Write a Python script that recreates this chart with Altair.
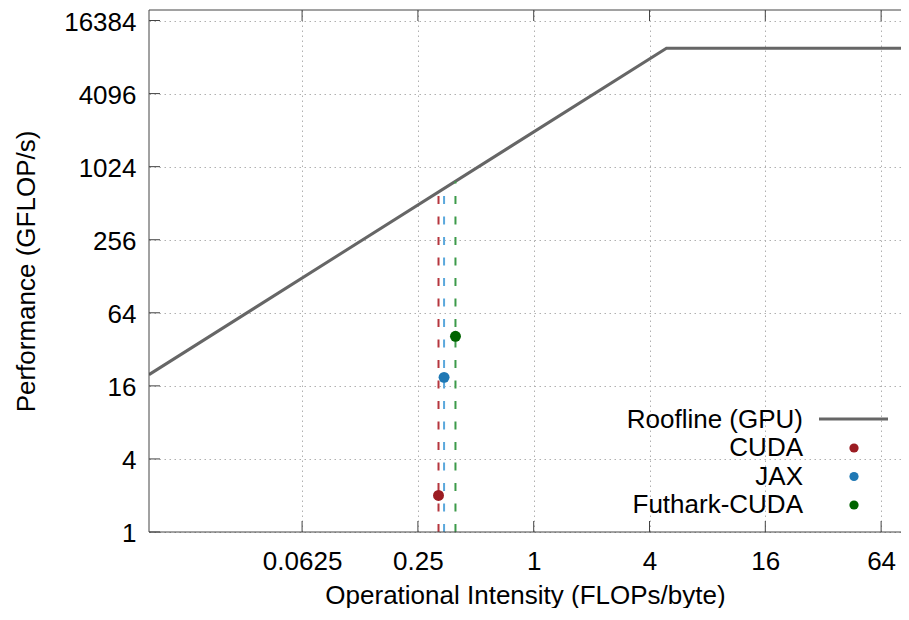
import altair as alt
import pandas as pd

# ---- data ----
roof_x = [0.01, 4.9, 100.0]            # FLOPs/byte
roof_y = [19.8, 9700.0, 9700.0]        # GFLOP/s

impl_names = ["CUDA", "JAX", "Futhark-CUDA"]
impl_intensity = [0.320, 0.342, 0.392]
impl_perf = [2.0, 18.8, 41.0]
impl_roof_top = [634.0, 677.0, 776.0]  # roofline value at each intensity

dot_colors = ["#9b1c22", "#1f78b4", "#006400"]
dash_colors = ["#b5363e", "#5aa8dc", "#3c9a4a"]

x_ticks = [0.0625, 0.25, 1, 4, 16, 64]
y_ticks = [1, 4, 16, 64, 256, 1024, 4096, 16384]

X_DOMAIN = [0.01, 81.2]
Y_DOMAIN = [1, 20000]
W, H = 752, 522
FONT = "Liberation Sans"
FS = 26

xscale = alt.Scale(type="log", base=2, domain=X_DOMAIN, nice=False)
yscale = alt.Scale(type="log", base=2, domain=Y_DOMAIN, nice=False)

xaxis = alt.Axis(values=x_ticks, format="~g", title="Operational Intensity (FLOPs/byte)",
                 ticks=False, domain=False, grid=True, labelPadding=16, titlePadding=8)
yaxis = alt.Axis(values=y_ticks, format="~g", title="Performance (GFLOP/s)",
                 ticks=False, domain=False, grid=True, labelPadding=13, titlePadding=24,
                 labelOffset=1.5)

roof_df = pd.DataFrame({"x": roof_x, "y": roof_y})
impl_df = pd.DataFrame({"name": impl_names, "x": impl_intensity, "y": impl_perf,
                        "top": impl_roof_top, "base": [Y_DOMAIN[0]] * 3})

roof = alt.Chart(roof_df).mark_line(color="#666666", strokeWidth=3, clip=True).encode(
    x=alt.X("x:Q", scale=xscale, axis=xaxis),
    y=alt.Y("y:Q", scale=yscale, axis=yaxis),
)

dashes = alt.Chart(impl_df).mark_rule(strokeWidth=2, strokeDash=[8, 12.5], clip=True).encode(
    x=alt.X("x:Q", scale=xscale),
    y=alt.Y("base:Q", scale=yscale),
    y2="top:Q",
    color=alt.Color("name:N", scale=alt.Scale(domain=impl_names, range=dash_colors), legend=None),
)

dots = alt.Chart(impl_df).mark_point(filled=True, size=120, opacity=1).encode(
    x=alt.X("x:Q", scale=xscale),
    y=alt.Y("y:Q", scale=yscale),
    fill=alt.Fill("name:N", scale=alt.Scale(domain=impl_names, range=dot_colors), legend=None),
)

# frame (left, top, bottom; the right side lies beyond the picture)
one = pd.DataFrame({"k": [0]})
frame_style = dict(color="#444444", strokeWidth=1)
frame = [
    alt.Chart(one).mark_rule(**frame_style).encode(x=alt.value(0), y=alt.value(0), y2=alt.value(H)),
    alt.Chart(one).mark_rule(**frame_style).encode(x=alt.value(0), x2=alt.value(W), y=alt.value(0)),
    alt.Chart(one).mark_rule(**frame_style).encode(x=alt.value(0), x2=alt.value(W), y=alt.value(H)),
]

# inward tick marks (gnuplot style)
xt_df = pd.DataFrame({"v": x_ticks})
yt_df = pd.DataFrame({"v": y_ticks})
xt_bottom = alt.Chart(xt_df).mark_rule(**frame_style).encode(
    x=alt.X("v:Q", scale=xscale), y=alt.value(H), y2=alt.value(H - 11))
xt_top = alt.Chart(xt_df).mark_rule(**frame_style).encode(
    x=alt.X("v:Q", scale=xscale), y=alt.value(0), y2=alt.value(11))
yt_left = alt.Chart(yt_df).mark_rule(**frame_style).encode(
    y=alt.Y("v:Q", scale=yscale), x=alt.value(0), x2=alt.value(11))

# legend (labels on the left, symbols on the right)
LBL_X = 654
legend_layers = [
    alt.Chart(one).mark_text(align="right", baseline="middle", font=FONT, fontSize=FS,
                             color="#000000").encode(
        x=alt.value(LBL_X), y=alt.value(410), text=alt.value("Roofline (GPU)")),
    alt.Chart(one).mark_rule(color="#666666", strokeWidth=3).encode(
        x=alt.value(670), x2=alt.value(739), y=alt.value(409)),
]
for i, (nm, c) in enumerate(zip(impl_names, dot_colors)):
    yy = 438 + 28.5 * i
    legend_layers.append(
        alt.Chart(one).mark_text(align="right", baseline="middle", font=FONT, fontSize=FS,
                                 color="#000000").encode(
            x=alt.value(LBL_X), y=alt.value(yy), text=alt.value(nm)))
    legend_layers.append(
        alt.Chart(one).mark_point(filled=True, size=85, color=c, opacity=1).encode(
            x=alt.value(705), y=alt.value(yy)))

chart = alt.layer(
    roof, dashes, dots, *frame, xt_bottom, xt_top, yt_left, *legend_layers
).properties(
    width=W, height=H,
    autosize=alt.AutoSizeParams(type="none"),
    padding={"left": 141, "top": 2, "right": 0, "bottom": 76},
).configure_view(
    strokeWidth=0
).configure_axis(
    labelFont=FONT, labelFontSize=FS, labelColor="#000000",
    titleFont=FONT, titleFontSize=FS, titleColor="#000000", titleFontWeight="normal",
    gridColor="#b0b0b0", gridDash=[1.5, 3.5], gridWidth=1,
)

chart.save("out.html", embed_options={"renderer": "svg", "actions": False})
